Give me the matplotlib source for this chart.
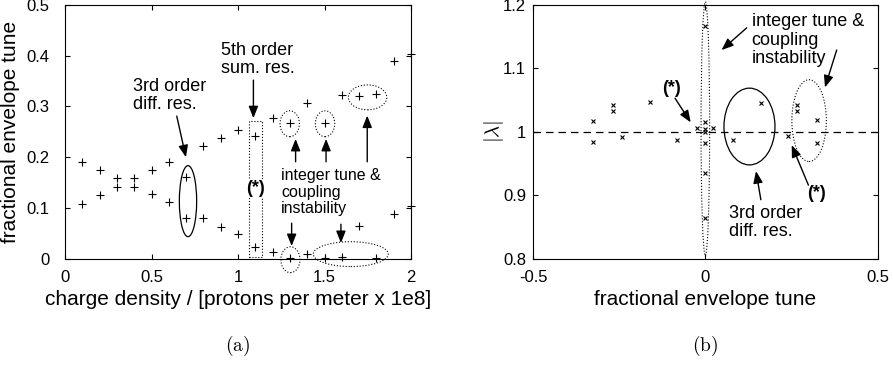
import numpy as np
from matplotlib import pyplot as plt
from matplotlib import patches as patches

plt.rcParams['font.family'] = ['Liberation Sans', 'DejaVu Sans']
plt.rcParams['mathtext.fontset'] = 'cm'

# (a) envelope tunes vs charge density
density = [0.1, 0.2, 0.3, 0.4, 0.5, 0.6, 0.7, 0.8, 0.9, 1.0,
           1.1, 1.2, 1.3, 1.4, 1.5, 1.6, 1.7, 1.8, 1.9, 2.0]
tune_upper = [0.191, 0.175, 0.159, 0.159, 0.174, 0.190, 0.161, 0.223, 0.238, 0.253,
              0.242, 0.277, 0.268, 0.306, 0.268, 0.323, 0.320, 0.325, 0.389, 0.404]
tune_lower = [0.108, 0.125, 0.141, 0.142, 0.127, 0.112, 0.081, 0.080, 0.063, 0.048,
              0.024, 0.014, 0.001, 0.009, 0.001, 0.003, 0.065, 0.001, 0.088, 0.103]

# (b) eigenvalue moduli vs fractional tune
eig_tune = [-0.325, -0.325, -0.267, -0.267, -0.241, -0.161, -0.081, -0.025,
            0.0, 0.0, 0.0, 0.0, 0.0, 0.0, 0.0,
            0.023, 0.081, 0.161, 0.241, 0.267, 0.267, 0.323, 0.323]
eig_mod = [1.017, 0.984, 1.042, 1.033, 0.992, 1.047, 0.987, 1.006,
           1.167, 1.015, 1.004, 0.999, 0.982, 0.935, 0.864,
           1.006, 0.987, 1.046, 0.993, 1.042, 1.033, 1.018, 0.983]

fig = plt.figure(figsize=(8.93, 3.77), dpi=100)
bottom, height = 1 - 258.7 / 377, (258.7 - 5) / 377
ax1 = fig.add_axes([65 / 893, bottom, 346 / 893, height])
ax2 = fig.add_axes([533 / 893, bottom, 344.7 / 893, height])

tick_fs = 12
label_fs = 15
note_fs = 13

arrow = dict(arrowstyle='-|>,head_length=0.55,head_width=0.22', color='k',
             lw=1.0, shrinkA=0, shrinkB=0, mutation_scale=13)


def add_arrow(ax, tail, tip):
    '''plain arrow from tail to tip in data coords'''
    ax.annotate('', xy=tip, xytext=tail, arrowprops=arrow, annotation_clip=False)


def style_axes(ax):
    ax.tick_params(direction='in', top=True, right=True, length=3.5,
                   width=0.8, labelsize=tick_fs)
    for s in ax.spines.values():
        s.set_linewidth(0.8)


# ---- plot (a) ----
ax1.plot(density, tune_upper, '+', color='k', ms=5.5, mew=0.8, clip_on=False)
ax1.plot(density, tune_lower, '+', color='k', ms=5.5, mew=0.8, clip_on=False)
ax1.set_xlim(0, 2)
ax1.set_ylim(0, 0.5)
ax1.set_xticks([0, 0.5, 1, 1.5, 2])
ax1.set_xticklabels(['0', '0.5', '1', '1.5', '2'])
ax1.set_yticks([0, 0.1, 0.2, 0.3, 0.4, 0.5])
ax1.set_yticklabels(['0', '0.1', '0.2', '0.3', '0.4', '0.5'])
style_axes(ax1)
ax1.tick_params(axis='x', pad=8)
ax1.tick_params(axis='y', pad=11)
ax1.set_xlabel('charge density / [protons per meter x 1e8]', fontsize=label_fs, labelpad=4)
ax1.set_ylabel('fractional envelope tune', fontsize=label_fs, labelpad=5)

dot = dict(fill=False, ls=':', lw=0.8, ec='k', clip_on=False)
ax1.add_patch(patches.Ellipse((0.711, 0.1134), 0.10, 0.14, fill=False, lw=0.9, ec='k'))
ax1.add_patch(patches.Rectangle((1.064, 0.004), 0.077, 0.268, **dot))
ax1.add_patch(patches.Ellipse((1.299, 0.266), 0.112, 0.051, **dot))
ax1.add_patch(patches.Ellipse((1.503, 0.266), 0.112, 0.051, **dot))
ax1.add_patch(patches.Ellipse((1.749, 0.318), 0.222, 0.049, **dot))
ax1.add_patch(patches.Ellipse((1.303, -0.002), 0.11, 0.051, **dot))
ax1.add_patch(patches.Ellipse((1.652, 0.009), 0.434, 0.049, **dot))

ax1.text(1.10, 0.139, '(*)', fontsize=note_fs, fontweight='bold', ha='center',
         va='center', bbox=dict(fc='white', ec='none', pad=0.3))
ax1.text(0.393, 0.357, '3rd order\ndiff. res.', fontsize=note_fs, va='top', linespacing=1.1)
ax1.text(0.902, 0.427, '5th order\nsum. res.', fontsize=note_fs, va='top', linespacing=1.1)
ax1.text(1.249, 0.178, 'integer tune &\ncoupling\ninstability', fontsize=11.5,
         va='top', linespacing=1.1)
add_arrow(ax1, (0.646, 0.281), (0.699, 0.200))
add_arrow(ax1, (1.089, 0.352), (1.089, 0.277))
add_arrow(ax1, (1.333, 0.191), (1.333, 0.236))
add_arrow(ax1, (1.509, 0.191), (1.509, 0.236))
add_arrow(ax1, (1.747, 0.191), (1.747, 0.282))
add_arrow(ax1, (1.310, 0.070), (1.310, 0.025))
add_arrow(ax1, (1.595, 0.068), (1.595, 0.031))

# ---- plot (b) ----
ax2.axhline(1, color='k', lw=0.9, ls=(0, (6, 4)))
ax2.plot(eig_tune, eig_mod, 'x', color='k', ms=3.5, mew=0.8)
ax2.set_xlim(-0.5, 0.5)
ax2.set_ylim(0.8, 1.2)
ax2.set_xticks([-0.5, 0, 0.5])
ax2.set_xticklabels(['-0.5', '0', '0.5'])
ax2.set_yticks([0.8, 0.9, 1.0, 1.1, 1.2])
ax2.set_yticklabels(['0.8', '0.9', '1', '1.1', '1.2'])
style_axes(ax2)
ax2.tick_params(axis='x', pad=8)
ax2.tick_params(axis='y', pad=5)
ax2.set_xlabel('fractional envelope tune', fontsize=label_fs, labelpad=4)
ax2.set_ylabel(r'$|\lambda|$', fontsize=label_fs, labelpad=-2)

ax2.add_patch(patches.Ellipse((0.0, 1.005), 0.025, 0.40, **dot))
ax2.add_patch(patches.Ellipse((0.128, 1.0084), 0.148, 0.121, fill=False, lw=0.9, ec='k'))
ax2.add_patch(patches.Ellipse((0.301, 1.0177), 0.10, 0.129, **dot))

ax2.text(0.134, 1.187, 'integer tune &\ncoupling\ninstability', fontsize=note_fs,
         va='top', linespacing=1.1)
ax2.text(0.069, 0.885, '3rd order\ndiff. res.', fontsize=note_fs, va='top', linespacing=1.1)
ax2.text(-0.098, 1.069, '(*)', fontsize=note_fs, fontweight='bold', ha='center', va='center')
ax2.text(0.323, 0.903, '(*)', fontsize=note_fs, fontweight='bold', ha='center', va='center')
add_arrow(ax2, (0.120, 1.164), (0.047, 1.129))
add_arrow(ax2, (0.381, 1.129), (0.347, 1.070))
add_arrow(ax2, (-0.088, 1.053), (-0.0425, 1.015))
add_arrow(ax2, (0.299, 0.916), (0.2505, 0.979))
add_arrow(ax2, (0.161, 0.893), (0.147, 0.938))

# sub-figure captions
fig.text(238 / 893, 1 - 346 / 377, r'$\mathrm{(a)}$', fontsize=14, ha='center', va='center')
fig.text(705 / 893, 1 - 346 / 377, r'$\mathrm{(b)}$', fontsize=14, ha='center', va='center')

fig.savefig('out.png', dpi=100)
